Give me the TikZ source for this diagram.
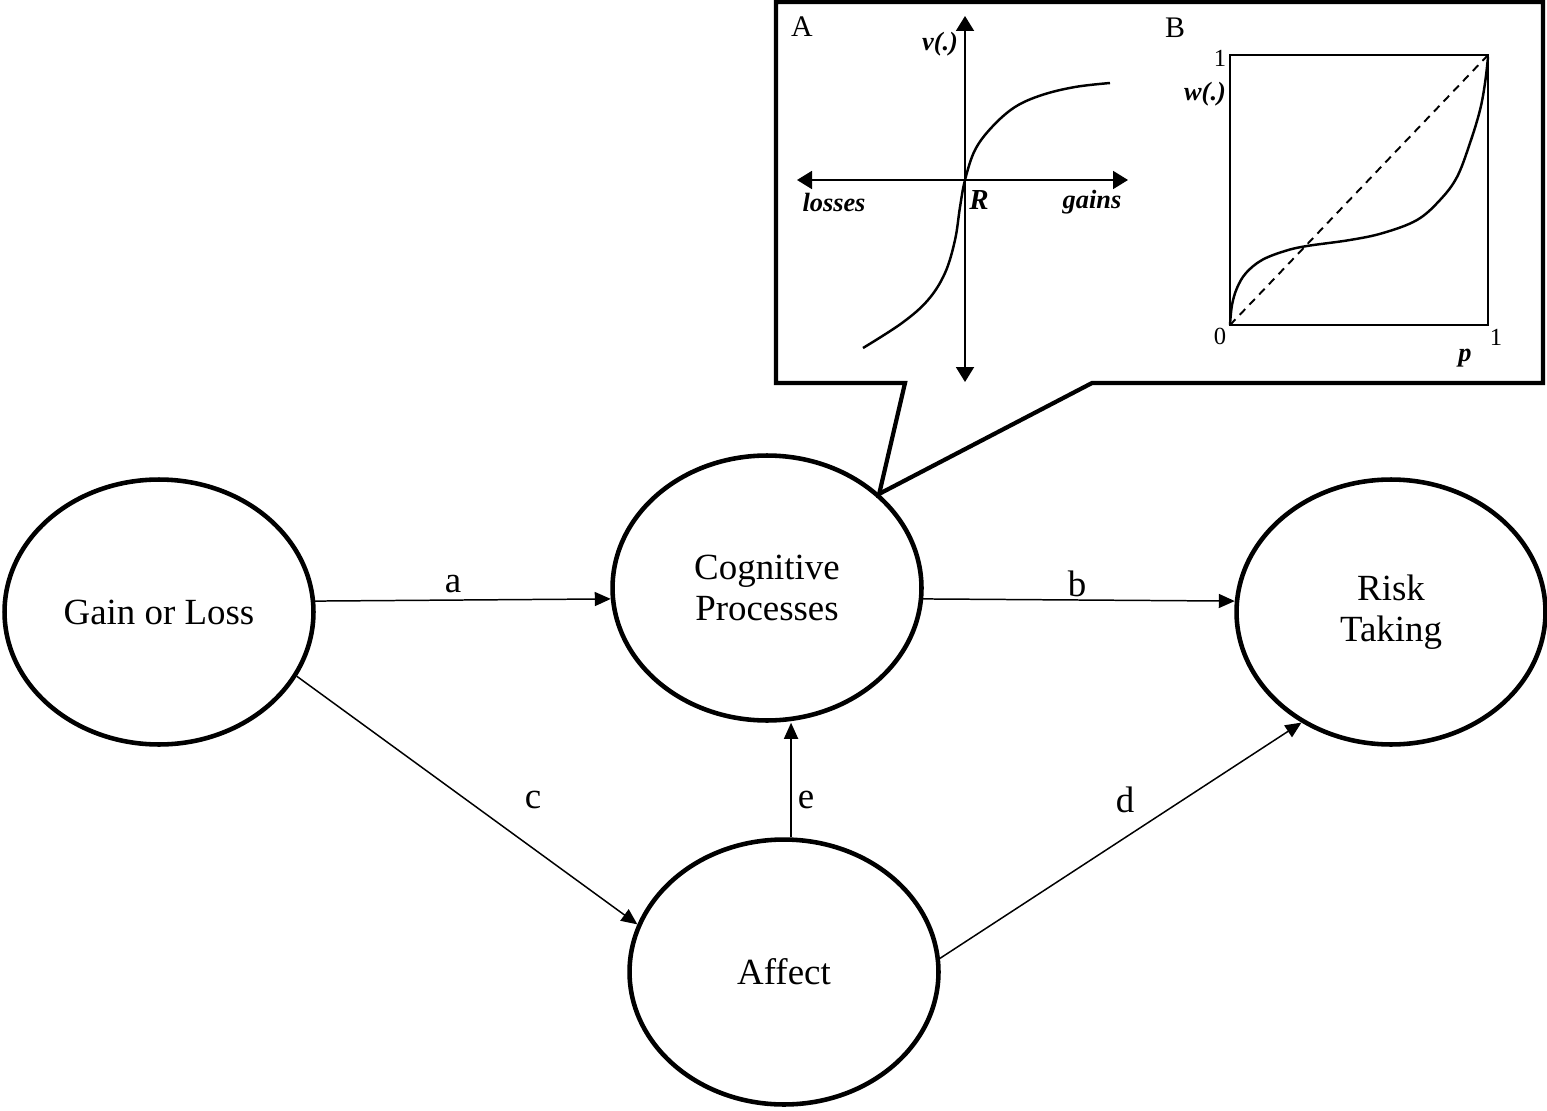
\documentclass[tikz,border=0pt]{standalone}
\usepackage{fontspec}
\setmainfont{Liberation Serif}
\usetikzlibrary{shapes.geometric,arrows.meta}
\tikzset{
  blob/.style={ellipse, draw, line width=2.6pt, inner sep=0pt, align=center,
    minimum width=6.18cm, minimum height=5.3cm, font=\fontsize{21}{23.5}\selectfont},
  link/.style={line width=0.85pt, -{Triangle[length=0.32cm,width=0.28cm]}},
  lab/.style={font=\fontsize{21}{24}\selectfont, inner sep=0pt},
  axis/.style={line width=1.1pt, {Triangle[length=0.3cm,width=0.36cm]}-{Triangle[length=0.3cm,width=0.36cm]}},
  crv/.style={line width=1.4pt},
  bi/.style={font=\fontsize{15}{17}\selectfont\bfseries\itshape, inner sep=0pt},
  up/.style={font=\fontsize{17}{19}\selectfont, inner sep=0pt},
  num/.style={font=\fontsize{14}{16}\selectfont, inner sep=0pt},
}
\begin{document}
\begin{tikzpicture}[x=0.02cm,y=-0.02cm]
\useasboundingbox (0,0) rectangle (1547,1111);

% main nodes
\node[blob] (gain) at (159,612) {Gain or Loss};
\node[blob] (cog)  at (767,588) {Cognitive\\Processes};
\node[blob] (risk) at (1391,612) {Risk\\Taking};
\node[blob] (aff)  at (784,972) {Affect};

% connectors
\draw[link] (gain.4) -- (cog.184);
\draw[link] (cog.356) -- (risk.176);
\draw[link] (gain.335.5) -- (aff.162.4);
\draw[link] (aff.5.6) -- (risk.231.7);
\draw[link] (aff.87.4) -- (aff.87.4 |- cog.south);

% labels
\node[lab] at (453,584) {a};
\node[lab] at (1077,584) {b};
\node[lab] at (533,800) {c};
\node[lab] at (1125,800) {d};
\node[lab] at (806,800) {e};

% callout box
\draw[line width=2.4pt, fill=white, line join=miter]
  (776,2) -- (1543,2) -- (1543,383) -- (1092,383) -- (cog.40) -- (905,383) -- (776,383) -- cycle;

% panel A
\node[up] at (802,27) {A};
\draw[axis] (965,382) -- (965,16);
\draw[axis] (797,180) -- (1128,180);
\node[bi] at (940,44) {v(.)};
\node[bi] at (834,202) {losses};
\node[bi, font=\fontsize{16.5}{18}\selectfont\bfseries\itshape] at (979,200) {R};
\node[bi] at (1092,202) {gains};
\draw[crv] plot[smooth, tension=0.6] coordinates {
  (863,348) (902,323) (928,300) (945,273) (955,240) (960,207) (965,180)
  (975,150) (992,127) (1015,107) (1042,95) (1075,87) (1110,83)};

% panel B
\node[up] at (1175,28) {B};
\draw[line width=1.1pt] (1230,55) rectangle (1488,325);
\draw[line width=1.1pt, dash pattern=on 4.5pt off 3.5pt] (1230,325) -- (1488,55);
\draw[crv] plot[smooth, tension=0.6] coordinates {
  (1230,325) (1232,305) (1237,288) (1246,273) (1262,260) (1285,251) (1307,246) (1350,240)
  (1383,233) (1417,220) (1440,200) (1457,177) (1470,143) (1480,110) (1485,83) (1488,57)};
\node[num] at (1220,58) {1};
\node[bi] at (1205,94) {w(.)};
\node[num] at (1220,336) {0};
\node[num] at (1496,337) {1};
\node[bi] at (1465,358) {p};
\end{tikzpicture}
\end{document}
